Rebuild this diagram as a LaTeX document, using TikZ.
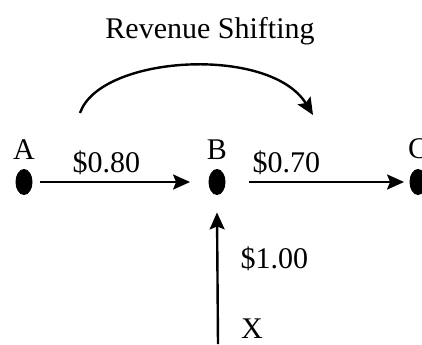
\documentclass[tikz,border=0pt]{standalone}
\usepackage{fontspec}
\setmainfont{Liberation Serif}
\usetikzlibrary{shapes.geometric, arrows.meta, positioning}
\tikzset{
  dotnode/.style={
    ellipse, fill=black, inner sep=0pt,
    minimum width=8.5pt, minimum height=13pt
  },
  lettertext/.style={font=\fontsize{15}{18}\selectfont, inner sep=2pt},
  flowarrow/.style={-{Stealth[length=8.5pt, width=7.5pt, inset=1.5pt]}, line width=1.2pt}
}

\begin{document}
\begin{tikzpicture}[x=0.5pt, y=-0.5pt]
\clip (0,0) rectangle (422,344);

\node[lettertext] (title) at (210,31) {Revenue Shifting};

\node[dotnode] (A) at (24,182)  {};
\node[dotnode] (B) at (217,182) {};
\node[dotnode] (C) at (418,182) {};

\node[lettertext, above=2.5pt of A] (labA) {A};
\node[lettertext, above=2.5pt of B] (labB) {B};
\node[lettertext, above=2.5pt of C] (labC) {C};

\coordinate (shiftstart) at (80,113);
\coordinate (shiftend)   at (313,115);
\coordinate (xin)        at (218,344);

\draw[flowarrow, shorten <=3.5pt, shorten >=9pt] (A) -- (B)
  node[lettertext, above=1pt, pos=0.42] {\$0.80};
\draw[flowarrow, shorten <=11.5pt, shorten >=2.5pt] (B) -- (C)
  node[lettertext, above=1pt, pos=0.33] {\$0.70};
\draw[flowarrow] (xin) -- ([yshift=-8.5pt]B.south)
  node[lettertext, right=9pt, pos=0.65] {\$1.00}
  node[lettertext, right=9pt, pos=0.12] {X};
\draw[flowarrow] (shiftstart) .. controls (100,55) and (270,45) .. (shiftend);
\end{tikzpicture}
\end{document}
